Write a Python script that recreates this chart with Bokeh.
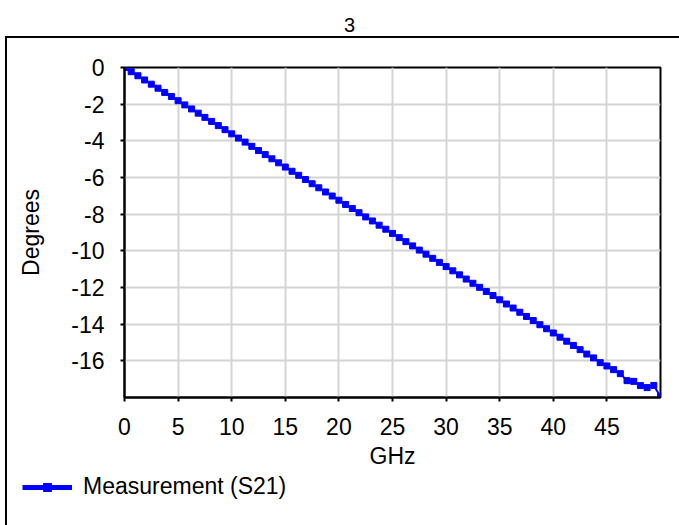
from bokeh.plotting import figure
from bokeh.models import (Legend, LegendItem, FixedTicker, Range1d,
                          CustomJSTickFormatter, Label)
from bokeh.embed import file_html
from bokeh.resources import INLINE

# ---- data ----
freq_ghz = [i * 0.625 for i in range(81)]
phase_deg = [
    0.00, -0.23, -0.45, -0.68, -0.91, -1.13, -1.36, -1.58, -1.81, -2.04,
    -2.26, -2.49, -2.72, -2.94, -3.17, -3.39, -3.62, -3.85, -4.07, -4.30,
    -4.53, -4.75, -4.98, -5.20, -5.43, -5.66, -5.88, -6.11, -6.34, -6.56,
    -6.79, -7.01, -7.24, -7.47, -7.69, -7.92, -8.15, -8.37, -8.60, -8.82,
    -9.05, -9.28, -9.50, -9.73, -9.96, -10.18, -10.41, -10.63, -10.86, -11.09,
    -11.31, -11.54, -11.77, -11.99, -12.22, -12.44, -12.67, -12.90, -13.12, -13.35,
    -13.58, -13.80, -14.03, -14.25, -14.48, -14.71, -14.93, -15.16, -15.39, -15.63,
    -15.84, -16.10, -16.28, -16.48, -16.70, -17.08, -17.12, -17.35, -17.46, -17.34,
    -17.95,
]
x_ticks = [0, 5, 10, 15, 20, 25, 30, 35, 40, 45]
y_ticks = [0, -2, -4, -6, -8, -10, -12, -14, -16]
series_name = "Measurement (S21)"
chart_title = "3"
x_label = "GHz"
y_label = "Degrees"

FONT = "Liberation Sans"
FS = "23px"
BLUE = "#0000ff"

TITLE_H = 36
LEG_H = 52
MAIN_H = 525 - TITLE_H - LEG_H

box_main = ("linear-gradient(#000,#000) 5px 0px / 2px 2000px no-repeat, "
            "linear-gradient(#000,#000) 5px 0px / 2000px 2px no-repeat, #fff")
box_leg = "linear-gradient(#000,#000) 5px 0px / 2px 2000px no-repeat, #fff"


def strip(height, bg):
    # a plain strip whose frame fills the whole canvas; its ranges lie away
    # from the data so that nothing of the series is drawn in it
    f = figure(width=679, height=height, output_backend="svg",
               toolbar_location=None, x_axis_type=None, y_axis_type=None,
               x_range=Range1d(100, 101), y_range=Range1d(100, 101), min_border=0,
               min_border_left=0, min_border_right=0, min_border_top=0,
               min_border_bottom=0, styles={"background": bg})
    f.outline_line_color = None
    f.background_fill_alpha = 0
    f.border_fill_alpha = 0
    return f


# ---- title strip ----
top = strip(TITLE_H, "#fff")
top.add_layout(Label(x=349, y=TITLE_H - 24, x_units="screen", y_units="screen",
                     text=chart_title, text_align="center", text_baseline="middle",
                     text_font=FONT, text_font_size="20px", text_color="black"))

# ---- main chart ----
p = figure(width=679, height=MAIN_H, output_backend="svg", toolbar_location=None,
           x_range=Range1d(0, 50), y_range=Range1d(-18, 0),
           min_border_left=124, min_border_right=19, min_border_top=67 - TITLE_H,
           min_border_bottom=MAIN_H - (397 - TITLE_H),
           styles={"background": box_main})
p.background_fill_color = "white"
p.border_fill_alpha = 0
p.outline_line_color = "black"
p.outline_line_width = 2

fmt = CustomJSTickFormatter(code="return tick.toString();")
for ax in (p.xaxis[0], p.yaxis[0]):
    ax.axis_line_color = "black"
    ax.axis_line_width = 2
    ax.major_tick_line_color = "black"
    ax.major_tick_line_width = 2
    ax.major_tick_in = 0
    ax.major_tick_out = 4
    ax.minor_tick_line_color = None
    ax.formatter = fmt
    ax.major_label_text_font = FONT
    ax.major_label_text_font_size = FS
    ax.major_label_text_color = "black"
    ax.axis_label_text_font = FONT
    ax.axis_label_text_font_size = FS
    ax.axis_label_text_font_style = "normal"
    ax.axis_label_text_color = "black"

p.xaxis[0].ticker = FixedTicker(ticks=x_ticks)
p.yaxis[0].ticker = FixedTicker(ticks=y_ticks)
p.xaxis[0].axis_label = x_label
p.yaxis[0].axis_label = y_label
p.xaxis[0].major_label_standoff = 16
p.yaxis[0].major_label_standoff = 16
p.xaxis[0].axis_label_standoff = 5
p.yaxis[0].axis_label_standoff = 24

p.xgrid.grid_line_color = "#d4d4d4"
p.ygrid.grid_line_color = "#d4d4d4"
p.xgrid.grid_line_width = 2
p.ygrid.grid_line_width = 2

p.line(freq_ghz, phase_deg, line_color=BLUE, line_width=2)
p.scatter(freq_ghz, phase_deg, marker="square", size=6, fill_color=BLUE,
          line_color=BLUE)

# ---- legend strip ----
q = strip(LEG_H, box_leg)
lg_line = q.line(freq_ghz, phase_deg, line_color=BLUE, line_width=5)
lg_mark = q.scatter(freq_ghz, phase_deg, marker="square", size=9, fill_color=BLUE,
                    line_color=BLUE)
legend = Legend(items=[LegendItem(label=series_name, renderers=[lg_line, lg_mark])],
                location=(22, 25), border_line_color=None,
                background_fill_alpha=0, padding=0, margin=0, spacing=0,
                glyph_width=50, glyph_height=20, label_height=20,
                label_standoff=11, label_text_font=FONT, label_text_font_size=FS,
                label_text_color="black")
q.add_layout(legend, "center")

open("out.html", "w").write(file_html([top, p, q], INLINE))
